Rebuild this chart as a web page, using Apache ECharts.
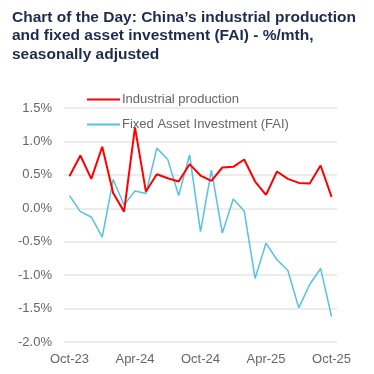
<!DOCTYPE html>
<html><head><meta charset="utf-8">
<script src="https://cdn.jsdelivr.net/npm/echarts@6/dist/echarts.min.js"></script>
<style>html,body{margin:0;padding:0;background:#fff;}#c{width:374px;height:374px;}</style>
</head><body><div id="c"></div>
<script>
var months = ['Oct-23','Nov-23','Dec-23','Jan-24','Feb-24','Mar-24','Apr-24','May-24','Jun-24','Jul-24','Aug-24','Sep-24','Oct-24','Nov-24','Dec-24','Jan-25','Feb-25','Mar-25','Apr-25','May-25','Jun-25','Jul-25','Aug-25','Sep-25','Oct-25'];
var industrialProduction = [0.48,0.79,0.44,0.92,0.23,-0.05,1.21,0.25,0.51,0.45,0.40,0.66,0.49,0.41,0.61,0.62,0.73,0.40,0.20,0.55,0.44,0.38,0.37,0.64,0.17];
var fixedAssetInvestment = [0.19,-0.05,-0.13,-0.43,0.43,0.05,0.26,0.22,0.90,0.73,0.19,0.80,-0.35,0.57,-0.37,0.14,-0.04,-1.05,-0.52,-0.77,-0.93,-1.49,-1.14,-0.90,-1.62];
var titleText = 'Chart of the Day: China\u2019s industrial production\nand fixed asset investment (FAI) - %/mth,\nseasonally adjusted';

var chart = echarts.init(document.getElementById('c'), null, {renderer:'canvas'});
chart.setOption({
  animation:false,
  backgroundColor:'#fff',
  title:{text:titleText,left:7,top:3,textStyle:{fontFamily:'Liberation Sans',fontWeight:'bold',fontSize:15.5,color:'#1e2b4d',lineHeight:18.5}},
  legend:{orient:'vertical',left:82,top:88,itemWidth:33,itemHeight:2,itemGap:12,
    icon:'rect',
    data:['Industrial production','Fixed Asset Investment (FAI)'],
    textStyle:{fontFamily:'Liberation Sans',fontSize:13,color:'#666',padding:[0,0,0,-3]}},
  grid:{left:64,right:37,top:108,bottom:32,containLabel:false},
  xAxis:{type:'category',data:months,boundaryGap:true,
    axisLine:{show:false},axisTick:{show:false},
    axisLabel:{interval:5,color:'#666',fontFamily:'Liberation Sans',fontSize:13,margin:11}},
  yAxis:{type:'value',min:-2,max:1.5,interval:0.5,
    axisLine:{show:false},axisTick:{show:false},
    axisLabel:{formatter:function(v){return v.toFixed(1)+'%';},color:'#666',fontFamily:'Liberation Sans',fontSize:13,margin:12},
    splitLine:{lineStyle:{color:'#e6e6e6',width:1.5}}},
  series:[
    {name:'Fixed Asset Investment (FAI)',type:'line',data:fixedAssetInvestment,symbol:'none',
     lineStyle:{color:'#56c1e6',width:1.5},itemStyle:{color:'#56c1e6'}},
    {name:'Industrial production',type:'line',data:industrialProduction,symbol:'none',
     lineStyle:{color:'#ff0000',width:2},itemStyle:{color:'#ff0000'}}
  ]
});
</script></body></html>
